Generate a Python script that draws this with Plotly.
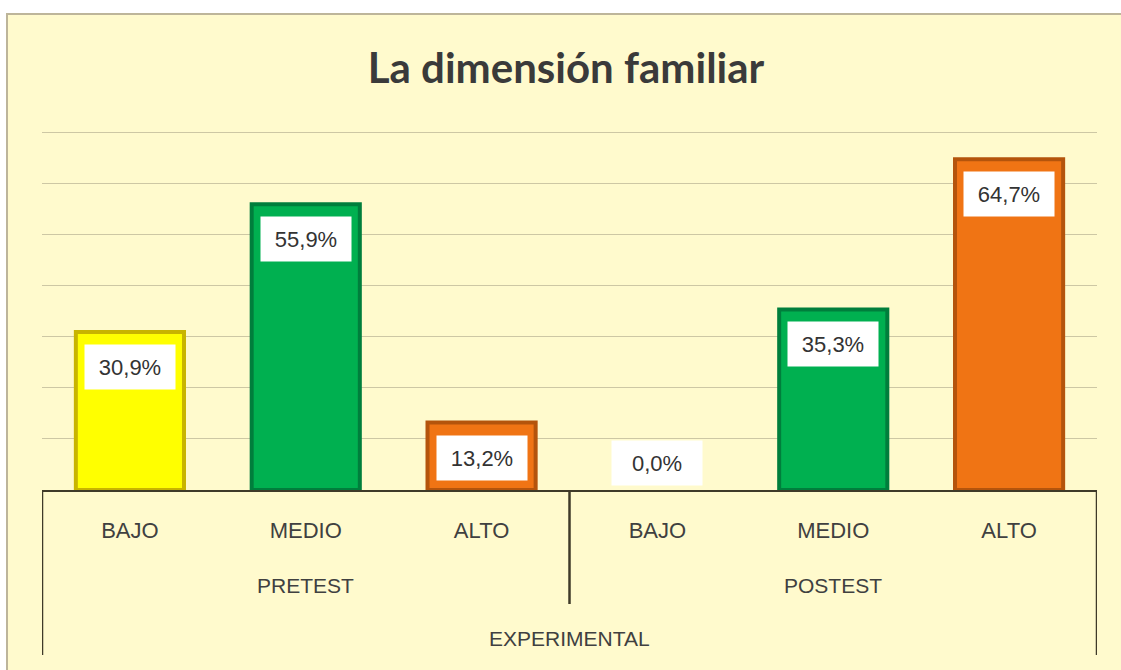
import plotly.graph_objects as go

# ---- data ----
levels = ["BAJO", "MEDIO", "ALTO", "BAJO", "MEDIO", "ALTO"]
groups = ["PRETEST", "POSTEST"]
outer_group = "EXPERIMENTAL"
values = [30.9, 55.9, 13.2, 0.0, 35.3, 64.7]
labels = ["30,9%", "55,9%", "13,2%", "0,0%", "35,3%", "64,7%"]
fill_colors = ["#FFFF00", "#00B050", "#F07414", "#FFFF00", "#00B050", "#F07414"]
edge_colors = ["#C8B400", "#007E3C", "#B4540C", "#C8B400", "#007E3C", "#B4540C"]
title_text = "La dimensión familiar"

xs = list(range(len(values)))

# plot-area pixel geometry (for paper-coordinate helpers)
W, H = 1121, 670
ML, MR, MT, MB = 42, 24, 131, 180
PW, PH = W - ML - MR, H - MT - MB


def px_x(p):
    return (p - ML) / PW


def px_y(p):
    return (H - MB - p) / PH


fig = go.Figure()
fig.add_trace(go.Bar(
    x=xs, y=values, width=0.615,
    marker=dict(color=fill_colors,
                line=dict(color=edge_colors,
                          width=[4 if v > 0 else 0 for v in values])),
    hoverinfo="skip", showlegend=False,
))

fig.update_layout(
    width=W, height=H,
    margin=dict(l=ML, r=MR, t=MT, b=MB),
    paper_bgcolor="white",
    plot_bgcolor="rgba(0,0,0,0)",
    font=dict(family="Liberation Sans, Arial", color="#404040"),
    title=dict(text="<b>" + title_text + "</b>", x=566 / W, xanchor="center",
               y=1 - 68 / H, yanchor="middle",
               font=dict(family="Lato", size=42, color="#3a3a3a")),
    xaxis=dict(
        range=[-0.5, len(values) - 0.5],
        tickmode="array", tickvals=xs, ticktext=levels,
        tickfont=dict(size=22, color="#404040"),
        ticks="", ticklabelstandoff=20,
        showline=True, linecolor="#3f3a28", linewidth=2,
        showgrid=False, zeroline=False, fixedrange=True,
    ),
    yaxis=dict(
        range=[0, 70.2], tickmode="array", tickvals=[10, 20, 30, 40, 50, 60, 70],
        showticklabels=False,
        showgrid=True, gridcolor="#cdc7a4", gridwidth=1,
        zeroline=False, showline=False, fixedrange=True,
    ),
)

# background panel with border
fig.add_shape(type="rect", xref="paper", yref="paper",
              x0=px_x(7), x1=px_x(W + 5), y0=px_y(H + 5), y1=px_y(14),
              fillcolor="#FFFACD", line=dict(color="#bdb59a", width=2),
              layer="below")

# category separators
for xv, ybot in [(-0.5, 655), (2.5, 604), (len(values) - 0.5, 655)]:
    fig.add_shape(type="line", xref="x", yref="paper",
                  x0=xv, x1=xv, y0=0, y1=px_y(ybot),
                  line=dict(color="#3f3a28", width=2.5))

# second-level labels
for gi, g in enumerate(groups):
    fig.add_annotation(x=gi * 3 + 1, y=px_y(585), xref="x", yref="paper",
                       text=g, showarrow=False, xanchor="center", yanchor="middle",
                       font=dict(size=21, color="#404040"))
fig.add_annotation(x=(len(values) - 1) / 2, y=px_y(638), xref="x", yref="paper",
                   text=outer_group, showarrow=False, xanchor="center", yanchor="middle",
                   font=dict(size=21, color="#404040"))

# data labels
for xv, v, t in zip(xs, values, labels):
    fig.add_annotation(x=xv, y=v, xref="x", yref="y", text=t, showarrow=False,
                       yshift=(-35 if v > 0 else 27),
                       bgcolor="white", width=86, height=40, borderpad=2,
                       font=dict(size=22, color="#333333", family="Liberation Sans, Arial"))

fig.write_html("out.html", config={"displayModeBar": False},
               post_script="document.body.style.margin='0';")
